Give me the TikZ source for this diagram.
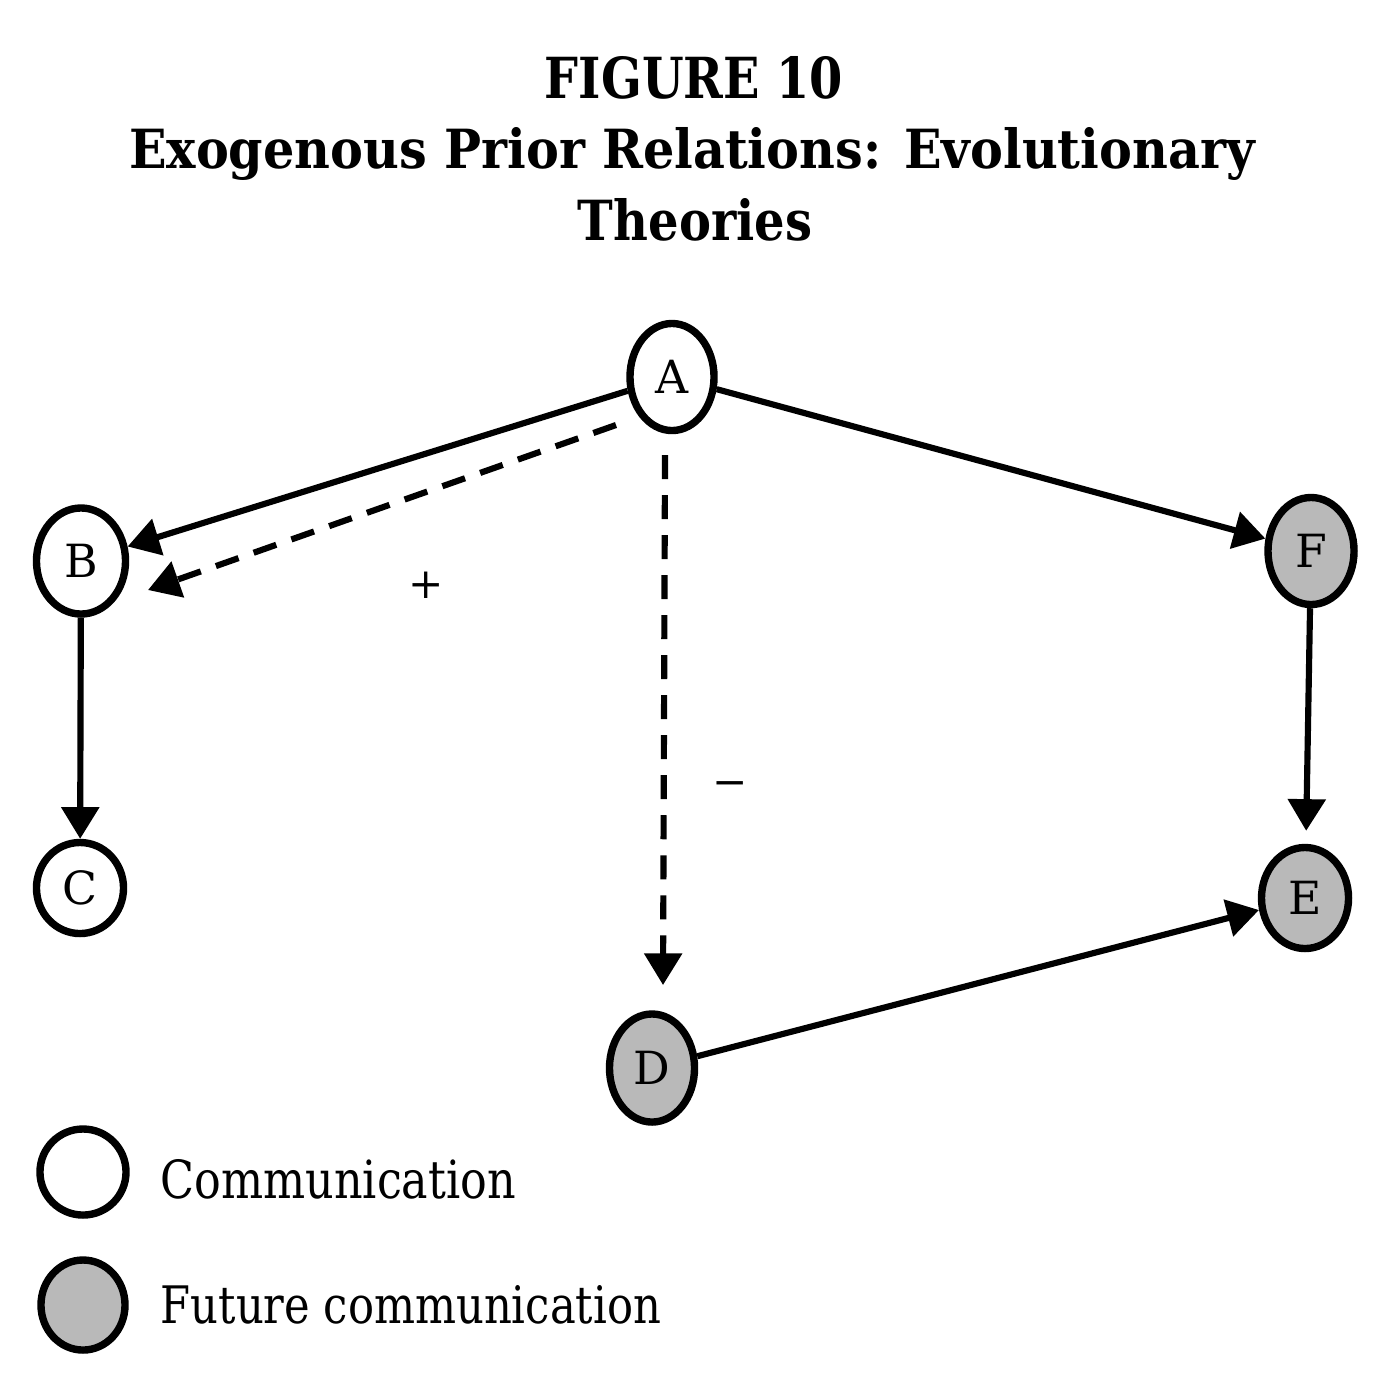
\documentclass[tikz,border=0pt]{standalone}
\usepackage{fontspec}
\usepackage{graphicx}
\setmainfont{DejaVu Serif}
\usetikzlibrary{shapes.geometric,arrows.meta}
\tikzset{
  state/.style={ellipse, draw=black, line width=2.1pt, inner sep=0pt,
    font=\fontsize{13}{13}\selectfont},
  comm/.style={state, fill=white},
  future/.style={state, fill=gray!55},
  conn/.style={line width=1.75pt, -{Triangle[length=9pt,width=10.5pt]}},
  dconn/.style={conn, dash pattern=on 0.24cm off 0.16cm},
  ttl/.style={inner sep=0pt, anchor=base},
  lbl/.style={inner sep=0pt, anchor=base west},
  sign/.style={inner sep=0pt, font=\fontsize{12}{12}\selectfont}
}
\begin{document}
\begin{tikzpicture}[x=0.01cm,y=-0.01cm]
\useasboundingbox (0,0) rectangle (1386,1378);
% titles
\node[ttl] (t1) at (694,98) {\resizebox{2.98cm}{0.42cm}{\bfseries FIGURE 10}};
\node[ttl] (t2) at (692,168) {\resizebox{11.25cm}{0.41cm}{\bfseries Exogenous Prior Relations: Evolutionary}};
\node[ttl] (t3) at (695,240) {\resizebox{2.34cm}{0.42cm}{\bfseries Theories}};
% nodes
\node[comm, minimum width=0.84cm, minimum height=1.07cm] (A) at (672,377) {A};
\node[comm, minimum width=0.89cm, minimum height=1.06cm] (B) at (81,561) {B};
\node[comm, minimum width=0.87cm, minimum height=0.91cm] (C) at (80,888) {C};
\node[future, minimum width=0.85cm, minimum height=1.08cm] (D) at (652,1068) {D};
\node[future, minimum width=0.87cm, minimum height=1.01cm] (E) at (1305,898) {E};
\node[future, minimum width=0.86cm, minimum height=1.07cm] (F) at (1311,551) {F};
% dashed ends
\coordinate (dAB1) at (616,425);
\coordinate (dAB2) at (148,590);
\coordinate (dAD1) at (665,455);
\coordinate (dAD2) at (663,985);
% connectors
\draw[conn] (A) -- (B);
\draw[dconn] (dAB1) -- (dAB2);
\draw[dconn] (dAD1) -- (dAD2);
\draw[conn] (A) -- (F);
\draw[conn] (B) -- (C);
\draw[conn, shorten >=0.13cm] (F) -- (E);
\draw[conn] (D) -- (E);
% signs
\node[sign] (plus) at (426,585) {+};
\node[sign] (minus) at (730,789) {−};
% legend
\node[comm, minimum width=0.86cm, minimum height=0.86cm] (L1) at (83,1172) {};
\node[future, minimum width=0.84cm, minimum height=0.90cm] (L2) at (83,1305) {};
\node[lbl] (L1t) at (160,1198) {\resizebox{3.55cm}{0.39cm}{Communication}};
\node[lbl] (L2t) at (160,1323) {\resizebox{5.0cm}{0.38cm}{Future communication}};
\end{tikzpicture}
\end{document}
